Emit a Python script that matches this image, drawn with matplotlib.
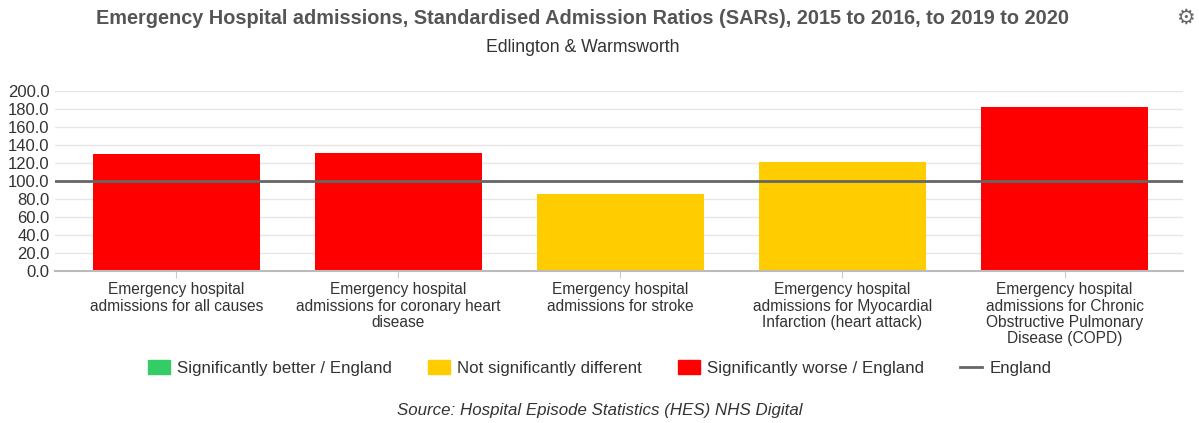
import matplotlib.pyplot as plt
from matplotlib.patches import Patch
from matplotlib.lines import Line2D

plt.rcParams['font.family'] = ['Liberation Sans', 'DejaVu Sans']

categories = [
    "Emergency hospital\nadmissions for all causes",
    "Emergency hospital\nadmissions for coronary heart\ndisease",
    "Emergency hospital\nadmissions for stroke",
    "Emergency hospital\nadmissions for Myocardial\nInfarction (heart attack)",
    "Emergency hospital\nadmissions for Chronic\nObstructive Pulmonary\nDisease (COPD)",
]
sar_values = [129.8, 131.5, 85.8, 121.5, 182.0]
significance = ["worse", "worse", "same", "same", "worse"]
england_value = 100.0
yticks = [0, 20, 40, 60, 80, 100, 120, 140, 160, 180, 200]

colours = {"better": "#33cc66", "same": "#ffcc00", "worse": "#ff0000"}
england_col = "#666666"
text_col = "#333333"

fig = plt.figure(figsize=(11.99, 4.23), dpi=100)
ax = fig.add_axes([0.0459, 0.3593, 0.9408, 0.4255])

x = range(len(categories))
ax.bar(x, sar_values, width=0.752, color=[colours[s] for s in significance], zorder=2)
ax.axhline(england_value, color=england_col, linewidth=2, zorder=3)

# plot area is a bit wider than the category band (padding like the original)
ax.set_xlim(-0.547, len(categories) - 1 + 0.534)
ax.set_ylim(0, 200)
ax.set_yticks(yticks)
ax.set_yticklabels(["%.1f" % v for v in yticks], fontsize=12, color=text_col)
ax.set_xticks(list(x))
ax.set_xticklabels(categories, fontsize=11.2, color=text_col, linespacing=1.12)
ax.tick_params(axis='y', length=0, pad=4)
ax.tick_params(axis='x', length=5, color="#cccccc", pad=3)
ax.grid(axis='y', color="#e6e6e6", linewidth=1, zorder=0)
for s in ['top', 'right', 'left']:
    ax.spines[s].set_visible(False)
ax.spines['bottom'].set_color("#bbbbbb")
ax.spines['bottom'].set_linewidth(1.5)

fig.text(583 / 1199, 1 - 18 / 423, "Emergency Hospital admissions, Standardised Admission Ratios (SARs), 2015 to 2016, to 2019 to 2020",
         ha='center', va='center', fontsize=14.3, fontweight='bold', color="#555555")
fig.text(583 / 1199, 1 - 47 / 423, "Edlington & Warmsworth", ha='center', va='center', fontsize=12.7, color=text_col)
fig.text(1185 / 1199, 1 - 18 / 423, "\u2699", ha='center', va='center', fontsize=15, color="#666666",
         family=['DejaVu Sans'])

handles = [
    Patch(color=colours["better"], label="Significantly better / England"),
    Patch(color=colours["same"], label="Not significantly different"),
    Patch(color=colours["worse"], label="Significantly worse / England"),
    Line2D([0], [0], color=england_col, linewidth=2, label="England"),
]
fig.legend(handles=handles, loc='center', bbox_to_anchor=(0.5, 1 - 368 / 423), ncol=4, frameon=False,
           fontsize=12.2, handlelength=1.3, handleheight=0.9, columnspacing=2.1, handletextpad=0.45,
           labelcolor=text_col)

fig.text(0.5, 1 - 410 / 423, "Source: Hospital Episode Statistics (HES) NHS Digital", ha='center', va='center',
         fontsize=12.2, style='italic', color=text_col)

fig.savefig("out.png", dpi=100)
